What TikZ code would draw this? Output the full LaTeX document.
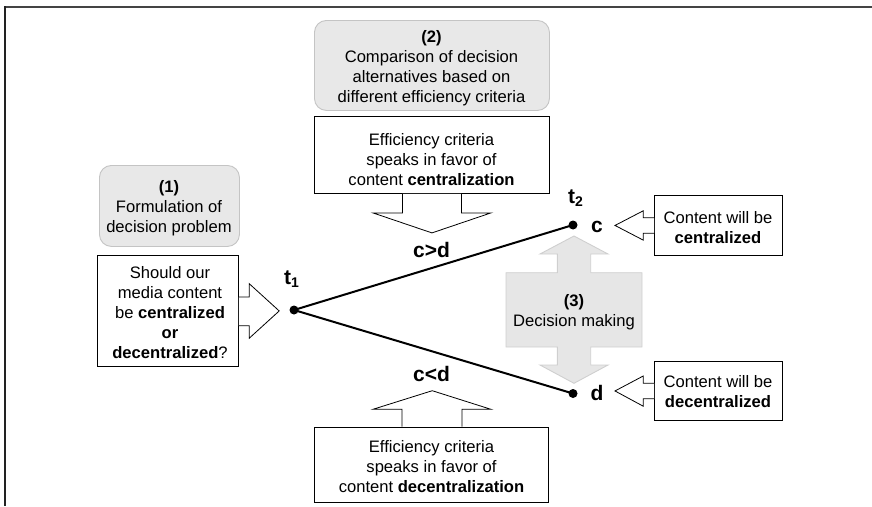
\documentclass[tikz,border=0pt]{standalone}
\usepackage{fontspec}
\setmainfont{Liberation Sans}
\usetikzlibrary{calc}
\definecolor{boxgray}{HTML}{E8E8E8}
\definecolor{boxline}{HTML}{C4C4C4}
\definecolor{dmgray}{HTML}{E6E6E6}
\definecolor{dmline}{HTML}{CFCFCF}
\definecolor{frametop}{HTML}{444444}
\definecolor{frameleft}{HTML}{222222}
\begin{document}
\begin{tikzpicture}[x=1pt,y=-1pt,
  graybox/.style={draw=boxline,fill=boxgray,rounded corners=12pt,line width=0.9pt,inner sep=0pt,anchor=north west},
  whitebox/.style={draw=black,fill=white,line width=0.9pt,inner sep=0pt,anchor=north west},
  blockarrow/.style={draw=black,fill=white,line width=0.8pt,line join=miter},
  dmarrow/.style={draw=dmline,fill=dmgray,line width=0.9pt,line join=miter},
  txt/.style={font=\fontsize{16.6}{20}\selectfont,align=center,inner sep=0pt},
  lbl/.style={font=\fontsize{21}{21}\selectfont\bfseries,inner sep=0pt},
  dot/.style={circle,fill=black,inner sep=0pt,minimum size=9pt},
  branch/.style={line width=2pt}]
\useasboundingbox (0,0) rectangle (872,506);
% frame
\coordinate (ftl) at (4.3,7.3);
\coordinate (ftr) at (872,7.3);
\coordinate (fbl) at (5.3,506);
\draw[frametop,line width=2pt] (ftl) -- (ftr);
\draw[frameleft,line width=2pt] (5.3,6.3) coordinate (fl) -- (fbl);

% (2) comparison
\node[graybox,minimum width=235pt,minimum height=90pt] (p2) at (314,20) {};
\node[txt] (p2t) at (431.5,68.5) {\textbf{(2)}\\Comparison of decision\\alternatives based on\\different efficiency criteria};

% top criteria box
\node[whitebox,minimum width=235pt,minimum height=77pt] (topc) at (314,116) {};
\node[txt] (topct) at (431.5,159.5) {Efficiency criteria\\speaks in favor of\\content \textbf{centralization}};
\begin{scope}[shift={(topc.south)}]
\draw[blockarrow] (-29.5,0) -- (-29.5,19) -- (-59,19) -- (0,39) -- (59,19) -- (29.5,19) -- (29.5,0);
\end{scope}

% (1) formulation
\node[graybox,minimum width=140pt,minimum height=81pt] (p1) at (99,165) {};
\node[txt] (p1t) at (169,208) {\textbf{(1)}\\Formulation of\\decision problem};

% question box
\node[whitebox,minimum width=141pt,minimum height=111pt] (q) at (97,255) {};
\node[txt] (qt) at (170,313) {Should our\\media content\\be \textbf{centralized}\\\textbf{or}\\\textbf{decentralized}?};
\begin{scope}[shift={(q.east)}]
\draw[blockarrow] (0,-14) -- (10.3,-14) -- (10.3,-27.3) -- (40.3,0) -- (10.3,27.3) -- (10.3,14.8) -- (0,14.8);
\end{scope}

% decision tree
\node[dot] (t1) at (294,310) {};
\node[dot] (c) at (573,225) {};
\node[dot] (d) at (573,393.5) {};
\draw[branch] (t1.center) -- (c.center);
\draw[branch] (t1.center) -- (d.center);
\node[lbl] (t1l) at (291.5,279) {t{\fontsize{14}{14}\selectfont\raisebox{-3.5pt}{1}}};
\node[lbl] (t2l) at (575.5,198) {t{\fontsize{14}{14}\selectfont\raisebox{-3.5pt}{2}}};
\node[lbl] (cl) at (597,226.5) {c};
\node[lbl] (dl) at (597,393) {d};
\node[lbl] (cgd) at (431.6,250) {c>d};
\node[lbl] (cld) at (431.6,374) {c<d};

% bottom criteria box
\node[whitebox,minimum width=234pt,minimum height=75.5pt] (botc) at (314,426.7) {};
\node[txt] (botct) at (431.5,467) {Efficiency criteria\\speaks in favor of\\content \textbf{decentralization}};
\begin{scope}[shift={(botc.north)}]
\draw[blockarrow] (-29.5,0) -- (-29.5,-17.4) -- (-58.5,-17.4) -- (0.8,-36) -- (59.5,-17.4) -- (30.5,-17.4) -- (30.5,0);
\end{scope}

% (3) decision making
\coordinate (dm) at (574,310);
\begin{scope}[shift={(dm)}]
\draw[dmarrow] (0,-74) -- (34,-56) -- (16.7,-56) -- (16.7,-37.3) -- (68,-37.3) -- (68,37) -- (16.7,37) -- (16.7,55) -- (34,55) -- (0,73.3) -- (-34,55) -- (-16.7,55) -- (-16.7,37) -- (-68,37) -- (-68,-37.3) -- (-16.7,-37.3) -- (-16.7,-56) -- (-34,-56) -- cycle;
\end{scope}
\node[txt] (dmt) at (574,312) {\textbf{(3)}\\Decision making};

% outcome boxes
\node[whitebox,minimum width=128pt,minimum height=60pt] (cbox) at (654,195) {};
\node[txt] (cboxt) at (718,227.5) {Content will be\\\textbf{centralized}};
\begin{scope}[shift={(cbox.west)}]
\draw[blockarrow] (0,-7.7) -- (-10.7,-7.7) -- (-10.7,-14.7) -- (-39,0) -- (-10.7,14.7) -- (-10.7,7.7) -- (0,7.7);
\end{scope}
\node[whitebox,minimum width=128pt,minimum height=59pt] (dbox) at (654,361) {};
\node[txt] (dboxt) at (718,392) {Content will be\\\textbf{decentralized}};
\begin{scope}[shift={(dbox.west)}]
\draw[blockarrow] (0,-7.8) -- (-10.7,-7.8) -- (-10.7,-15) -- (-39,0) -- (-10.7,15.3) -- (-10.7,7.8) -- (0,7.8);
\end{scope}
\end{tikzpicture}
\end{document}
